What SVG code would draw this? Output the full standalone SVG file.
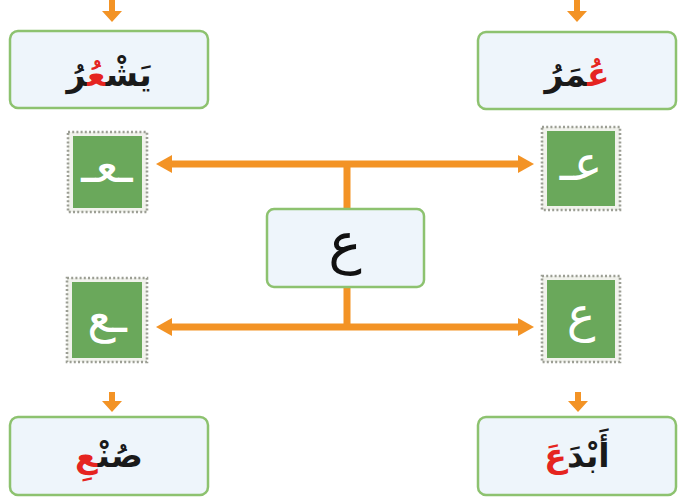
<svg xmlns="http://www.w3.org/2000/svg" width="686" height="501" viewBox="0 0 686 501">
<style>
.box{fill:#eef5fb;stroke:#8dc26f;stroke-width:2.5}
.tileo{fill:#f1f2ec;stroke:#9c9e94;stroke-width:2.6;stroke-dasharray:2 2.2}
.tile{fill:#6aa85b}
.word{font-family:"DejaVu Sans",sans-serif;font-size:33px;font-weight:bold;fill:#1a1a1a;text-anchor:middle}
.red{fill:#e52420}
.let{font-family:"DejaVu Sans",sans-serif;font-size:48px;fill:#ffffff;text-anchor:middle}
.line{stroke:#f39325;stroke-width:7;fill:none}
.ah{fill:#f39325}
</style>
<rect width="686" height="501" fill="#ffffff"/>
<g id="connectors">
<path class="line" d="M168 164H522M347 164V209M347 287V327M168 327H522"/>
<path class="ah" d="M156 164L172 155V173Z"/>
<path class="ah" d="M534 164L518 155V173Z"/>
<path class="ah" d="M156 327L172 318V336Z"/>
<path class="ah" d="M534 327L518 318V336Z"/>
<path class="ah" d="M109 0H115V11H122L112 22L102 11H109Z"/>
<path class="ah" d="M574 0H580V11H587L577 22L567 11H574Z"/>
<path class="ah" d="M109 392H115V401H122L112 412L102 401H109Z"/>
<path class="ah" d="M575 392H581V401H588L578 412L568 401H575Z"/>
</g>
<g id="word-tl">
<rect class="box" x="10" y="31" width="198" height="77" rx="8"/>
<text class="word" x="109" y="86" direction="rtl">يَشْ<tspan class="red">عُ</tspan>رُ</text>
</g>
<g id="word-tr">
<rect class="box" x="478" y="32" width="198" height="77" rx="8"/>
<text class="word" x="577" y="86" direction="rtl"><tspan class="red">عُ</tspan>مَرُ</text>
</g>
<g id="word-bl">
<rect class="box" x="10" y="417" width="198" height="78" rx="8"/>
<text class="word" x="109" y="467" direction="rtl">صُنْ<tspan class="red">عِ</tspan></text>
</g>
<g id="word-br">
<rect class="box" x="478" y="417" width="198" height="78" rx="8"/>
<text class="word" x="577" y="467" direction="rtl">أَبْدَ<tspan class="red">عَ</tspan></text>
</g>
<g id="center">
<rect class="box" x="267" y="209" width="157" height="78" rx="7"/>
<text x="345" y="262" font-family="DejaVu Sans,sans-serif" font-size="56" fill="#111" text-anchor="middle">ع</text>
</g>
<g id="tile-medial">
<rect class="tileo" x="68" y="132" width="79" height="80"/>
<rect class="tile" x="73" y="136" width="69" height="72"/>
<text class="let" x="107" y="182">ـعـ</text>
</g>
<g id="tile-initial">
<rect class="tileo" x="542" y="127" width="78" height="83"/>
<rect class="tile" x="547" y="131" width="68" height="75"/>
<text class="let" x="581" y="180">عـ</text>
</g>
<g id="tile-final">
<rect class="tileo" x="67" y="278" width="80" height="84"/>
<rect class="tile" x="72" y="282" width="70" height="76"/>
<text class="let" x="107" y="332">ـع</text>
</g>
<g id="tile-isolated">
<rect class="tileo" x="542" y="276" width="78" height="86"/>
<rect class="tile" x="547" y="280" width="68" height="78"/>
<text class="let" x="581" y="331">ع</text>
</g>
</svg>
